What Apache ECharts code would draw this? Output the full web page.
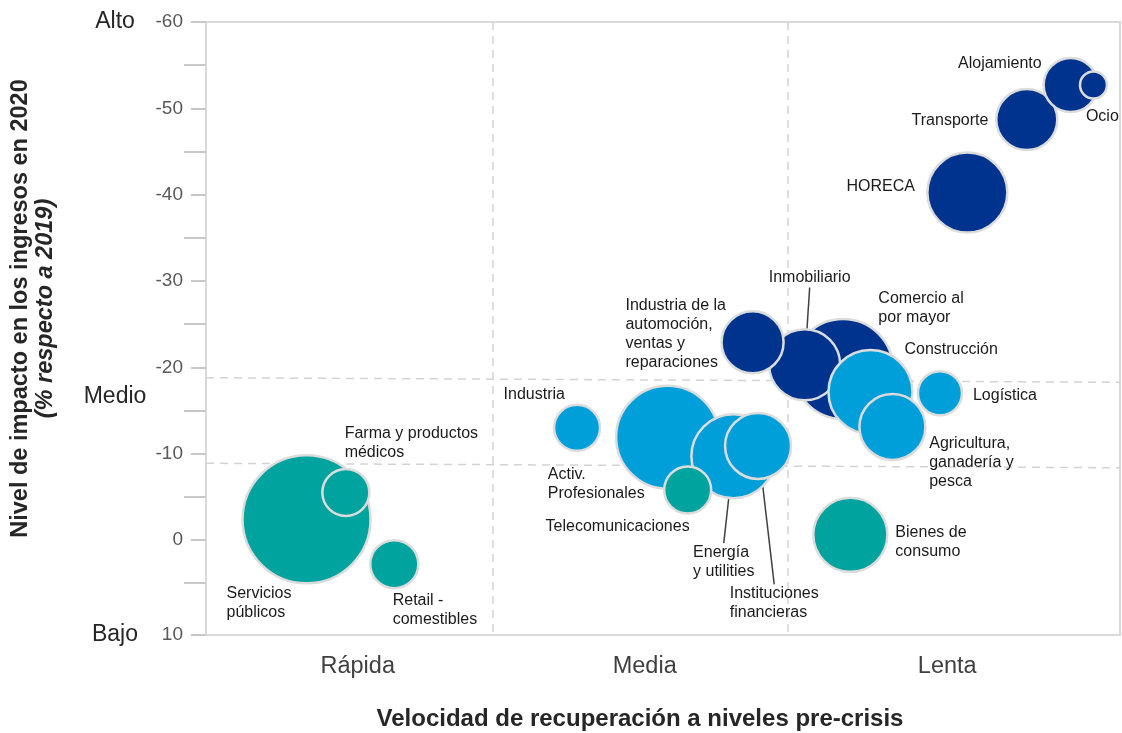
<!DOCTYPE html>
<html>
<head>
<meta charset="utf-8">
<script src="https://cdn.jsdelivr.net/npm/echarts@6/dist/echarts.min.js"></script>
<style>
html,body{margin:0;padding:0;background:#fff;}
#chart{width:1122px;height:733px;}
</style>
</head>
<body>
<div id="chart"></div>
<script>
// ---- data (drawing order: later items on top) ----
const sectors = ['Comercio al\npor mayor','Inmobiliario','Industria de la\nautomoción,\nventas y\nreparaciones','Construcción','Agricultura,\nganadería y\npesca','Logística','Activ.\nProfesionales','Energía\ny utilities','Instituciones\nfinancieras','Telecomunicaciones','Industria','Servicios\npúblicos','Farma y productos\nmédicos','Retail -\ncomestibles','Bienes de\nconsumo','HORECA','Transporte','Alojamiento','Ocio'];
const recovery = [69.7, 65.5, 59.8, 72.7, 75.1, 80.3, 50.5, 57.7, 60.4, 52.7, 40.6, 11.0, 15.3, 20.6, 70.5, 83.3, 89.8, 94.6, 97.1];
const impact   = [-19.8, -20.3, -22.9, -17.15, -13.1, -17.0, -11.9, -9.7, -10.9, -5.8, -13.0, -2.4, -5.5, 2.8, -0.6, -40.25, -48.7, -52.7, -52.7];
const weight   = [104, 53.3, 41, 74, 46.2, 21.2, 110, 74, 46.2, 24, 23, 169, 24, 25, 57.8, 67.2, 39.7, 31.4, 8.4];
const group    = ['dark','dark','dark','light','light','light','light','light','light','teal','light','teal','teal','teal','teal','dark','dark','dark','dark'];

const xTickValues = [16.6, 48.0, 81.1];
const xTickLabels = ['Rápida','Media','Lenta'];
const yTickValues = [-60, -50, -40, -30, -20, -10, 0, 11];
const yTickLabels = ['-60','-50','-40','-30','-20','-10','0','10'];
const yMinorTicks = [-55, -45, -35, -25, -15, -5, 5];
const levelValues = [-60, -16.6, 11];
const levelLabels = ['Alto','Medio','Bajo'];

const vDividers = [31.4, 63.7];
const hDividers = [[-18.8, -18.27], [-8.89, -8.37]];

// ---- styles ----
const groupColor = {dark:'#00338D', light:'#009FDA', teal:'#00A39D'};
// label placement relative to bubble centre (px)
const labelPlace = [
  [35.3,-60.5,'left',0],[5,-86.7,'center',1],[-127.1,-7.8,'left',0],[34,-42,'left',0],
  [36.8,35.5,'left',0],[33,2.4,'left',0],[-119.8,47,'left',0],[-40.3,105.9,'left',1],
  [-28.3,157.5,'left',1],[-142.1,36.7,'left',0],[-73.5,-32.8,'left',0],[-80,83.3,'left',0],
  [-1.2,-49.1,'left',0],[-1.6,45.9,'left',0],[45,7.2,'left',0],[-52.5,-5.8,'right',0],
  [-38.4,1.4,'right',0],[-29,-21.7,'right',0],[-7.6,31.7,'left',0]
];

const FONT = '"Liberation Sans", Arial, Helvetica, sans-serif';

const bubbleData = sectors.map((name, i) => ({
  name: name,
  value: [recovery[i], impact[i], weight[i]],
  itemStyle: {color: groupColor[group[i]]},
  labelLine: labelPlace[i][3] ? {show: true, lineStyle: {color: '#404040', width: 1.5}} : {show: false}
}));

const dividerLines = vDividers.map(v => [{coord: [v, -60]}, {coord: [v, 11]}])
  .concat(hDividers.map(h => [{coord: [0, h[0]]}, {coord: [100, h[1]]}]));

const chart = echarts.init(document.getElementById('chart'), null, {renderer: 'canvas'});
chart.setOption({
  animation: false,
  backgroundColor: '#ffffff',
  textStyle: {fontFamily: FONT},
  grid: {left: 206, top: 22, right: 2, bottom: 98, show: true, borderColor: '#d9d9d9', borderWidth: 2, containLabel: false, outerBoundsMode: 'none'},
  xAxis: {
    type: 'value', min: 0, max: 100,
    axisLine: {show: false}, axisTick: {show: false}, splitLine: {show: false},
    axisLabel: {
      customValues: xTickValues,
      formatter: v => xTickLabels[xTickValues.indexOf(v)],
      color: '#404040', fontSize: 23.5, margin: 20, fontFamily: FONT
    },
    name: 'Velocidad de recuperación a niveles pre-crisis',
    nameLocation: 'middle', nameGap: 72,
    nameTextStyle: {fontSize: 24, fontWeight: 'bold', color: '#262626', fontFamily: FONT, padding: [0, 46, 0, 0]}
  },
  yAxis: [
    {
      type: 'value', min: -60, max: 11, inverse: true, position: 'left',
      axisLine: {show: false}, splitLine: {show: false},
      axisTick: {show: true, customValues: yTickValues, length: 15, lineStyle: {color: '#c8c8c8', width: 2}},
      axisLabel: {
        customValues: yTickValues,
        formatter: v => yTickLabels[yTickValues.indexOf(v)],
        color: '#595959', fontSize: 19, margin: 23, fontFamily: FONT
      },
      name: '{a|Nivel de impacto en los ingresos en 2020}\n{b|(% respecto a 2019)}',
      nameLocation: 'middle', nameRotate: 90, nameGap: 148,
      nameTextStyle: {
        fontFamily: FONT, color: '#262626', lineHeight: 25, padding: [0, 0, 0, 40],
        rich: {
          a: {fontSize: 23.5, fontWeight: 'bold', color: '#262626', fontFamily: FONT, lineHeight: 25},
          b: {fontSize: 23.5, fontWeight: 'bold', fontStyle: 'italic', color: '#262626', fontFamily: FONT, lineHeight: 25}
        }
      }
    },
    {
      type: 'value', min: -60, max: 11, inverse: true, position: 'left',
      axisLine: {show: false}, splitLine: {show: false}, axisLabel: {show: false},
      axisTick: {show: true, customValues: yMinorTicks, length: 22, lineStyle: {color: '#c8c8c8', width: 2}}
    },
    {
      type: 'value', min: -60, max: 11, inverse: true, position: 'left',
      axisLine: {show: false}, splitLine: {show: false}, axisTick: {show: false},
      axisLabel: {
        customValues: levelValues,
        formatter: v => levelLabels[levelValues.indexOf(v)],
        color: '#262626', fontSize: 23, margin: 91, align: 'center', fontFamily: FONT
      }
    }
  ],
  series: [
    {
      type: 'scatter', z: 1, data: [], silent: true,
      markLine: {
        silent: true, z: 1, symbol: ['none', 'none'], label: {show: false},
        lineStyle: {color: '#d3d3d3', width: 1.5, type: [8, 6]},
        data: dividerLines
      }
    },
    {
      type: 'scatter', z: 10, yAxisIndex: 0,
      data: bubbleData,
      symbolSize: v => 10 * Math.sqrt(v[2]) - 2,
      itemStyle: {borderColor: '#dcdcdc', borderWidth: 2.5, opacity: 1},
      label: {
        show: true, position: 'inside',
        formatter: p => p.name,
        color: '#1a1a1a', fontSize: 16, lineHeight: 19, fontFamily: FONT
      },
      labelLine: {show: false},
      labelLayout: p => {
        const o = labelPlace[p.dataIndex];
        return {dx: o[0], dy: o[1], align: o[2], verticalAlign: 'middle'};
      },
      emphasis: {disabled: true}
    }
  ]
});
</script>
</body>
</html>
